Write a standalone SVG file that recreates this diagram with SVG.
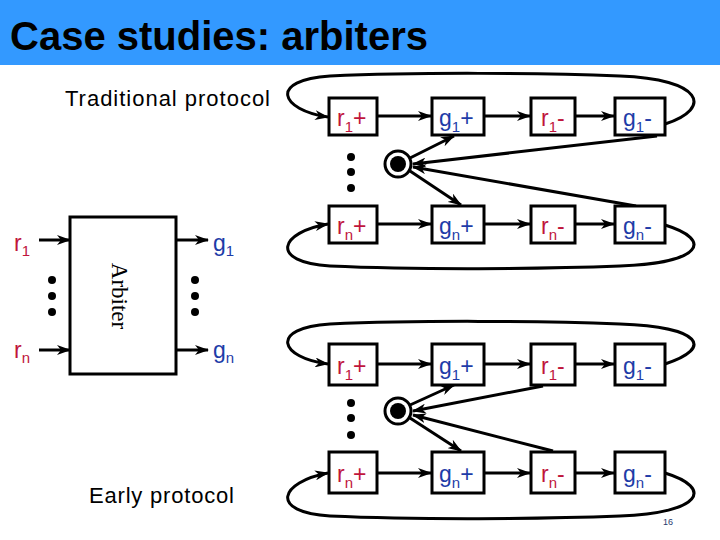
<svg xmlns="http://www.w3.org/2000/svg" width="720" height="540" viewBox="0 0 720 540">
<style>
.box{fill:#fff;stroke:#000;stroke-width:3}
.ln{fill:none;stroke:#000;stroke-width:3}
.ar{marker-end:url(#ah)}
.lbl{font-family:"Liberation Sans",Arial,sans-serif;font-size:23px}
.r{fill:#C0143C}
.g{fill:#1E3CA8}
.sub{font-size:15px}
.dot{fill:#000}
</style>
<defs>
<marker id="ah" markerUnits="userSpaceOnUse" markerWidth="14" markerHeight="10" refX="13" refY="5" orient="auto">
<path d="M0,0 L14,5 L0,10 L4,5 Z" fill="#000"/>
</marker>
</defs>
<rect x="0" y="0" width="720" height="65" fill="#3399FF"/>
<text x="10" y="50" font-family="'Liberation Sans',Arial,sans-serif" font-weight="bold" font-size="40" fill="#000" textLength="418" lengthAdjust="spacingAndGlyphs">Case studies: arbiters</text>
<text x="65" y="106" font-family="'Liberation Sans',Arial,sans-serif" font-size="22" fill="#000" textLength="205">Traditional protocol</text>
<text x="89" y="503" font-family="'Liberation Sans',Arial,sans-serif" font-size="22" fill="#000" textLength="145">Early protocol</text>
<text x="663" y="525" font-family="'Liberation Sans',Arial,sans-serif" font-size="9" fill="#1F3A6E">16</text>

<!-- Arbiter -->
<g id="arbiter">
<rect class="box" x="70" y="217" width="106" height="157"/>
<text transform="translate(112,296) rotate(90)" text-anchor="middle" font-family="'Liberation Serif','Times New Roman',serif" font-size="23" fill="#000">Arbiter</text>
</g>
<g id="arb-labels" class="lbl">
<text x="14" y="251" class="r">r<tspan class="sub" dy="5">1</tspan></text>
<text x="14" y="358" class="r">r<tspan class="sub" dy="5">n</tspan></text>
<text x="213" y="251" class="g">g<tspan class="sub" dy="5">1</tspan></text>
<text x="213" y="358" class="g">g<tspan class="sub" dy="5">n</tspan></text>
</g>
<g id="arb-dots" class="dot">
<circle cx="52" cy="280" r="4"/><circle cx="52" cy="296" r="4"/><circle cx="52" cy="312" r="4"/>
<circle cx="195" cy="280" r="4"/><circle cx="195" cy="296" r="4"/><circle cx="195" cy="312" r="4"/>
</g>

<!-- Connectors -->
<g id="connectors">
<line class="ln ar" x1="39" y1="240" x2="70" y2="240"/>
<line class="ln ar" x1="39" y1="350" x2="70" y2="350"/>
<line class="ln ar" x1="176" y1="240" x2="208" y2="240"/>
<line class="ln ar" x1="176" y1="350" x2="208" y2="350"/>

<!-- top diagram -->
<line class="ln ar" x1="377" y1="116" x2="431" y2="116"/>
<line class="ln ar" x1="484" y1="116" x2="530" y2="116"/>
<line class="ln ar" x1="575" y1="116" x2="614" y2="116"/>
<line class="ln ar" x1="377" y1="224" x2="431" y2="224"/>
<line class="ln ar" x1="484" y1="224" x2="530" y2="224"/>
<line class="ln ar" x1="575" y1="224" x2="614" y2="224"/>
<path class="ln ar" d="M665,124 C714,108 702,79 620,76 C540,73 420,72 330,76 C268,80 280,110 328,117"/>
<path class="ln ar" d="M665,225 C714,240 702,263 620,266 C540,269 420,270 330,266 C268,262 280,232 328,224"/>
<line class="ln ar" x1="410" y1="158" x2="454" y2="136"/>
<line class="ln ar" x1="657" y1="136" x2="413" y2="164"/>
<line class="ln ar" x1="636" y1="206" x2="413" y2="167"/>
<line class="ln ar" x1="410" y1="171" x2="461" y2="205"/>

<!-- bottom diagram -->
<line class="ln ar" x1="377" y1="364" x2="431" y2="364"/>
<line class="ln ar" x1="484" y1="364" x2="530" y2="364"/>
<line class="ln ar" x1="575" y1="364" x2="614" y2="364"/>
<line class="ln ar" x1="377" y1="473" x2="431" y2="473"/>
<line class="ln ar" x1="484" y1="473" x2="530" y2="473"/>
<line class="ln ar" x1="575" y1="473" x2="614" y2="473"/>
<path class="ln ar" d="M665,364 C714,348 702,327 620,324 C540,321 420,320 330,324 C268,328 280,358 328,364"/>
<path class="ln ar" d="M665,473 C714,488 702,513 620,516 C540,519 420,520 330,516 C268,512 280,482 328,473"/>
<line class="ln ar" x1="410" y1="405" x2="454" y2="385"/>
<line class="ln ar" x1="543" y1="386" x2="413" y2="411"/>
<line class="ln ar" x1="553" y1="451" x2="413" y2="415"/>
<line class="ln ar" x1="410" y1="418" x2="461" y2="451"/>
</g>

<!-- Top diagram nodes -->
<g id="t-r1p"><rect class="box" x="329" y="98" width="48" height="37"/><text class="lbl r" x="337" y="126">r<tspan class="sub" dy="6">1</tspan><tspan dy="-6">+</tspan></text></g>
<g id="t-g1p"><rect class="box" x="432" y="98" width="52" height="37"/><text class="lbl g" x="439" y="126">g<tspan class="sub" dy="6">1</tspan><tspan dy="-6">+</tspan></text></g>
<g id="t-r1m"><rect class="box" x="531" y="98" width="44" height="37"/><text class="lbl r" x="541" y="126">r<tspan class="sub" dy="6">1</tspan><tspan dy="-6">-</tspan></text></g>
<g id="t-g1m"><rect class="box" x="615" y="98" width="50" height="37"/><text class="lbl g" x="623" y="126">g<tspan class="sub" dy="6">1</tspan><tspan dy="-6">-</tspan></text></g>
<g id="t-rnp"><rect class="box" x="329" y="206" width="48" height="37"/><text class="lbl r" x="337" y="234">r<tspan class="sub" dy="6">n</tspan><tspan dy="-6">+</tspan></text></g>
<g id="t-gnp"><rect class="box" x="432" y="206" width="52" height="37"/><text class="lbl g" x="439" y="234">g<tspan class="sub" dy="6">n</tspan><tspan dy="-6">+</tspan></text></g>
<g id="t-rnm"><rect class="box" x="531" y="206" width="44" height="37"/><text class="lbl r" x="541" y="234">r<tspan class="sub" dy="6">n</tspan><tspan dy="-6">-</tspan></text></g>
<g id="t-gnm"><rect class="box" x="615" y="206" width="50" height="37"/><text class="lbl g" x="623" y="234">g<tspan class="sub" dy="6">n</tspan><tspan dy="-6">-</tspan></text></g>
<g id="t-join"><circle cx="398" cy="164" r="13" fill="#fff" stroke="#000" stroke-width="3"/><circle cx="398" cy="164" r="8" fill="#000"/></g>
<g id="t-dots" class="dot"><circle cx="351" cy="157" r="4"/><circle cx="351" cy="172" r="4"/><circle cx="351" cy="188" r="4"/></g>

<!-- Bottom diagram nodes -->
<g id="b-r1p"><rect class="box" x="329" y="344" width="48" height="41"/><text class="lbl r" x="337" y="374">r<tspan class="sub" dy="6">1</tspan><tspan dy="-6">+</tspan></text></g>
<g id="b-g1p"><rect class="box" x="432" y="344" width="52" height="41"/><text class="lbl g" x="439" y="374">g<tspan class="sub" dy="6">1</tspan><tspan dy="-6">+</tspan></text></g>
<g id="b-r1m"><rect class="box" x="531" y="344" width="44" height="41"/><text class="lbl r" x="541" y="374">r<tspan class="sub" dy="6">1</tspan><tspan dy="-6">-</tspan></text></g>
<g id="b-g1m"><rect class="box" x="615" y="344" width="50" height="41"/><text class="lbl g" x="623" y="374">g<tspan class="sub" dy="6">1</tspan><tspan dy="-6">-</tspan></text></g>
<g id="b-rnp"><rect class="box" x="329" y="452" width="48" height="41"/><text class="lbl r" x="337" y="482">r<tspan class="sub" dy="6">n</tspan><tspan dy="-6">+</tspan></text></g>
<g id="b-gnp"><rect class="box" x="432" y="452" width="52" height="41"/><text class="lbl g" x="439" y="482">g<tspan class="sub" dy="6">n</tspan><tspan dy="-6">+</tspan></text></g>
<g id="b-rnm"><rect class="box" x="531" y="452" width="44" height="41"/><text class="lbl r" x="541" y="482">r<tspan class="sub" dy="6">n</tspan><tspan dy="-6">-</tspan></text></g>
<g id="b-gnm"><rect class="box" x="615" y="452" width="50" height="41"/><text class="lbl g" x="623" y="482">g<tspan class="sub" dy="6">n</tspan><tspan dy="-6">-</tspan></text></g>
<g id="b-join"><circle cx="398" cy="411" r="13" fill="#fff" stroke="#000" stroke-width="3"/><circle cx="398" cy="411" r="8" fill="#000"/></g>
<g id="b-dots" class="dot"><circle cx="351" cy="403" r="4"/><circle cx="351" cy="418" r="4"/><circle cx="351" cy="435" r="4"/></g>
</svg>
